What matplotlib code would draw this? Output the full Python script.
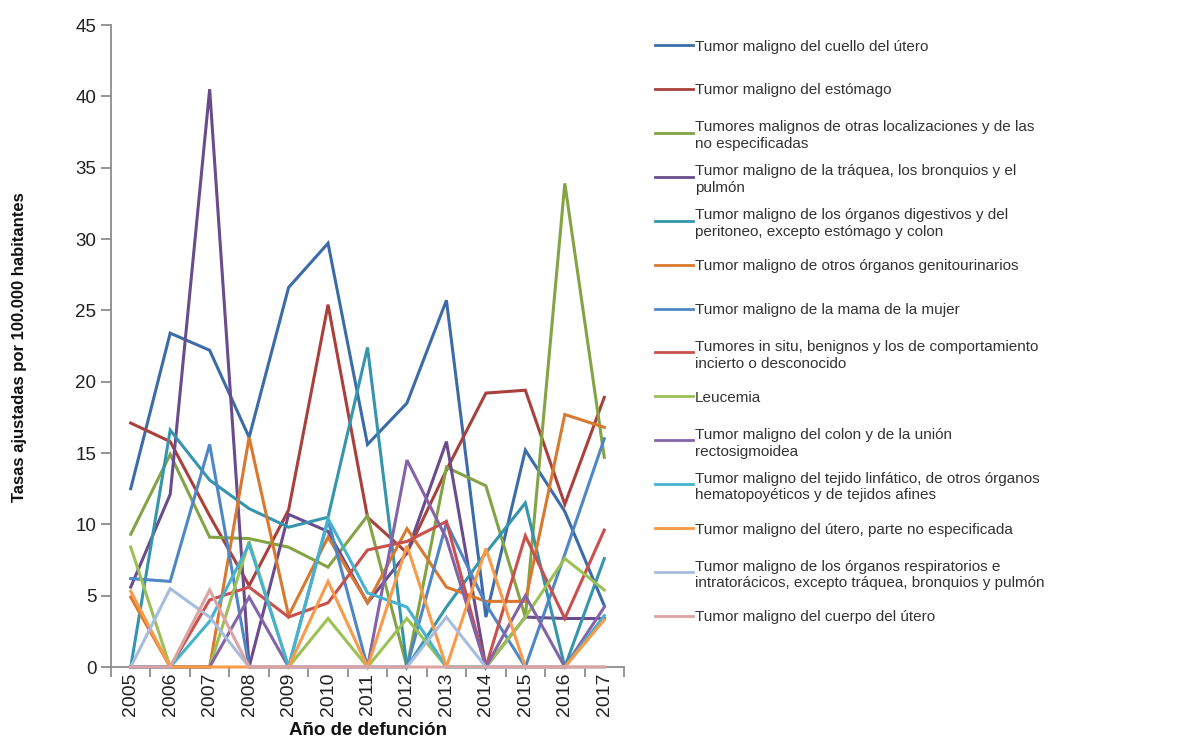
import matplotlib
matplotlib.use("Agg")
import matplotlib.pyplot as plt
from matplotlib.lines import Line2D

plt.rcParams['font.family'] = ['Liberation Sans', 'DejaVu Sans']

years = ["2005", "2006", "2007", "2008", "2009", "2010", "2011",
         "2012", "2013", "2014", "2015", "2016", "2017"]

cuello = [12.5, 23.4, 22.2, 16.1, 26.6, 29.7, 15.6, 18.5, 25.7, 3.5, 15.2, 10.9, 4.3]
estomago = [17.1, 15.8, 10.6, 5.7, 11.0, 25.4, 10.5, 8.0, 13.8, 19.2, 19.4, 11.4, 18.9]
otras = [9.3, 14.9, 9.1, 9.0, 8.4, 7.0, 10.6, 0, 14.0, 12.7, 3.5, 33.9, 14.7]
traquea = [5.6, 12.1, 40.5, 0, 10.7, 9.5, 4.5, 8.0, 15.8, 0, 3.5, 3.4, 3.4]
digestivos = [0, 16.6, 13.1, 11.1, 9.8, 10.5, 22.4, 0, 4.2, 8.0, 11.5, 0, 7.6]
genitourinarios = [4.9, 0, 0, 16.1, 3.6, 9.1, 4.5, 9.7, 5.6, 4.6, 4.6, 17.7, 16.8]
mama = [6.2, 6.0, 15.6, 0, 0, 10.3, 0, 0, 10.1, 4.4, 0, 7.9, 16.0]
insitu = [0, 0, 4.7, 5.6, 3.5, 4.5, 8.2, 8.8, 10.2, 0, 9.2, 3.4, 9.6]
leucemia = [8.4, 0, 0, 8.8, 0, 3.4, 0, 3.4, 0, 0, 3.5, 7.6, 5.4]
colon = [0, 0, 0, 4.9, 0, 0, 0, 14.5, 9.0, 0, 5.0, 0, 4.2]
linfatico = [0, 0, 3.2, 8.6, 0, 10.4, 5.2, 4.2, 0, 0, 0, 0, 3.6]
utero = [5.3, 0, 0, 0, 0, 6.0, 0, 8.5, 0, 8.3, 0, 0, 3.3]
respiratorios = [0, 5.5, 3.5, 0, 0, 0, 0, 0, 3.5, 0, 0, 0, 0]
cuerpo = [0, 0, 5.4, 0, 0, 0, 0, 0, 0, 0, 0, 0, 0]

labels = [
    "Tumor maligno del cuello del útero",
    "Tumor maligno del estómago",
    "Tumores malignos de otras localizaciones y de las\nno especificadas",
    "Tumor maligno de la tráquea, los bronquios y el\npulmón",
    "Tumor maligno de los órganos digestivos y del\nperitoneo, excepto estómago y colon",
    "Tumor maligno de otros órganos genitourinarios",
    "Tumor maligno de la mama de la mujer",
    "Tumores in situ, benignos y los de comportamiento\nincierto o desconocido",
    "Leucemia",
    "Tumor maligno del colon y de la unión\nrectosigmoidea",
    "Tumor maligno del tejido linfático, de otros órganos\nhematopoyéticos y de tejidos afines",
    "Tumor maligno del útero, parte no especificada",
    "Tumor maligno de los órganos respiratorios e\nintratorácicos, excepto tráquea, bronquios y pulmón",
    "Tumor maligno del cuerpo del útero",
]
series = [cuello, estomago, otras, traquea, digestivos, genitourinarios, mama,
          insitu, leucemia, colon, linfatico, utero, respiratorios, cuerpo]
colors = ["#3c6ca8", "#a9403c", "#84a345", "#6a4c8c", "#3595ad", "#d9792f",
          "#4f86c6", "#c9504d", "#9bc155", "#8464a8", "#45b3d0", "#f89a48",
          "#a6bddf", "#dca3a2"]

W, H = 1178, 738
fig = plt.figure(figsize=(W / 100, H / 100), dpi=100)
ax = fig.add_axes([111 / W, 1 - 667 / H, (624 - 111) / W, (667 - 25) / H])

x = list(range(len(years)))
for vals, col in zip(series, colors):
    ax.plot(x, vals, color=col, lw=2.2, clip_on=False, zorder=3,
            solid_joinstyle='miter')

ax.set_xlim(-0.5, 12.5)
ax.set_ylim(0, 45)
ax.set_yticks(range(0, 46, 5))
ax.set_xticks(x)
ax.set_xticklabels(years, rotation=90)
ax.set_xticks([i - 0.5 for i in range(len(years) + 1)], minor=True)

gray = "#8c8c8c"
for s in ["top", "right"]:
    ax.spines[s].set_visible(False)
for s in ["left", "bottom"]:
    ax.spines[s].set_color(gray)
    ax.spines[s].set_linewidth(1.3)
    ax.spines[s].set_zorder(2)

ax.tick_params(axis='y', direction='out', length=7.5, width=1.3, color=gray,
               labelsize=13.5, labelcolor="#222222", pad=3)
ax.tick_params(axis='x', which='major', length=0, labelsize=14,
               labelcolor="#222222", pad=4)
ax.tick_params(axis='x', which='minor', direction='out', length=7.5,
               width=1.3, color=gray)

fig.text(20 / W, 1 - 347 / H, "Tasas ajustadas por 100.000 habitantes",
         rotation=90, ha='center', va='center', fontsize=12,
         fontweight='bold', color='#111111')
fig.text(368 / W, (H - 735) / H, "Año de defunción", ha='center',
         va='baseline', fontsize=13.5, fontweight='bold', color='#111111')

# legend (drawn manually to mimic the layout)
for i, (lab, col) in enumerate(zip(labels, colors)):
    ypx = 45 + i * 43.92
    yf = 1 - ypx / H
    fig.add_artist(Line2D([655 / W, 693 / W], [yf, yf], color=col, lw=2.0,
                          transform=fig.transFigure))
    fig.text(695 / W, yf, lab, ha='left', va='center_baseline',
             fontsize=11, color='#333333', linespacing=1.25)

fig.savefig("out.png", dpi=100)
